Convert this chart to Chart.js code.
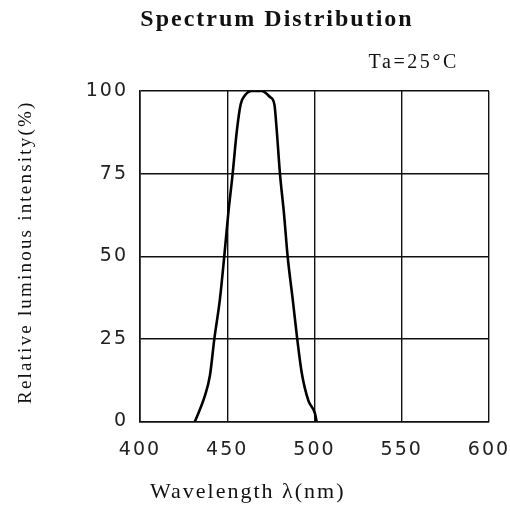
<!DOCTYPE html>
<html>
<head>
<meta charset="utf-8">
<script src="https://cdn.jsdelivr.net/npm/chart.js@4/dist/chart.umd.min.js"></script>
<style>
  html, body { margin: 0; padding: 0; background: #fff; }
  #wrap { width: 510px; height: 510px; }
</style>
</head>
<body>
<div id="wrap"><canvas id="c" width="510" height="510"></canvas></div>
<script>
// ---- data ----
const chartTitle = 'Spectrum Distribution';
const conditionLabel = 'Ta=25°C';
const xAxisTitle = 'Wavelength λ(nm)';
const yAxisTitle = 'Relative luminous intensity(%)';
const xTicks = [400, 450, 500, 550, 600];
const yTicks = [0, 25, 50, 75, 100];
const wavelength = [431.5, 437.2, 440.1, 442.6, 445.8, 448.3, 450.6, 453.1, 455.4, 457.7, 460.2, 464.0, 469.7, 474.5, 477.0, 478.3, 480.2, 482.5, 484.6, 487.5, 490.1, 492.6, 496.5, 500.3, 501.2];
const intensity  = [0, 7.8, 14, 25, 37, 50, 63, 75, 87.5, 96, 98.7, 100, 100, 98.2, 96, 88.5, 75, 63, 50, 37, 25, 15, 6.3, 2.4, 0];

const points = wavelength.map((w, i) => ({ x: w, y: intensity[i] }));

const textPlugin = {
  id: 'texts',
  beforeDraw(chart) { chart.ctx.letterSpacing = '2px'; },
  afterDraw(chart) {
    const ctx = chart.ctx;
    const a = chart.chartArea;
    ctx.save();
    ctx.fillStyle = '#111';
    ctx.textBaseline = 'alphabetic';
    ctx.letterSpacing = '2px';
    ctx.font = 'bold 24px "Liberation Serif"';
    ctx.textAlign = 'center';
    ctx.fillText(chartTitle, a.left + 137, 26);
    ctx.letterSpacing = '2.6px';
    ctx.font = '20px "Liberation Serif"';
    ctx.textAlign = 'right';
    ctx.fillText(conditionLabel, a.right - 30, 68);
    ctx.letterSpacing = '2px';
    ctx.font = '22px "Liberation Serif"';
    ctx.textAlign = 'left';
    ctx.fillText(xAxisTitle, a.left + 10, 498);
    // y axis title, rotated
    ctx.translate(31, (a.top + a.bottom) / 2 - 4);
    ctx.rotate(-Math.PI / 2);
    ctx.letterSpacing = '2.2px';
    ctx.font = '19px "Liberation Serif"';
    ctx.textAlign = 'center';
    ctx.fillText(yAxisTitle, 0, 0);
    ctx.restore();
    ctx.letterSpacing = '0px';
  }
};

new Chart(document.getElementById('c'), {
  type: 'line',
  data: {
    datasets: [{
      data: points,
      borderColor: '#000',
      borderWidth: 2.6,
      pointRadius: 0,
      cubicInterpolationMode: 'monotone',
      fill: false
    }]
  },
  options: {
    responsive: false,
    animation: false,
    layout: { padding: { top: 91, right: 21, left: 0, bottom: 0 } },
    plugins: { legend: { display: false }, tooltip: { enabled: false }, title: { display: false } },
    scales: {
      x: {
        type: 'linear',
        min: xTicks[0], max: xTicks[xTicks.length - 1],
        afterBuildTicks(s) { s.ticks = xTicks.map(v => ({ value: v })); },
        afterFit(s) { s.height = 88.5; s.paddingLeft = 0; s.paddingRight = 0; },
        grid: { color: '#111', lineWidth: 1.4, drawTicks: false },
        border: { color: '#111', width: 1.6 },
        ticks: { color: '#222', padding: 17, maxRotation: 0, font: { family: '"DejaVu Sans"', size: 19 } }
      },
      y: {
        min: yTicks[0], max: yTicks[yTicks.length - 1],
        afterBuildTicks(s) { s.ticks = yTicks.map(v => ({ value: v })); },
        afterFit(s) { s.width = 140; s.paddingTop = 0; s.paddingBottom = 0; },
        grid: { color: '#111', lineWidth: 1.4, drawTicks: false },
        border: { color: '#111', width: 1.6 },
        ticks: { color: '#222', padding: 12, font: { family: '"DejaVu Sans"', size: 19 } },
        title: { display: false, text: yAxisTitle }
      }
    }
  },
  plugins: [textPlugin]
});
</script>
</body>
</html>
